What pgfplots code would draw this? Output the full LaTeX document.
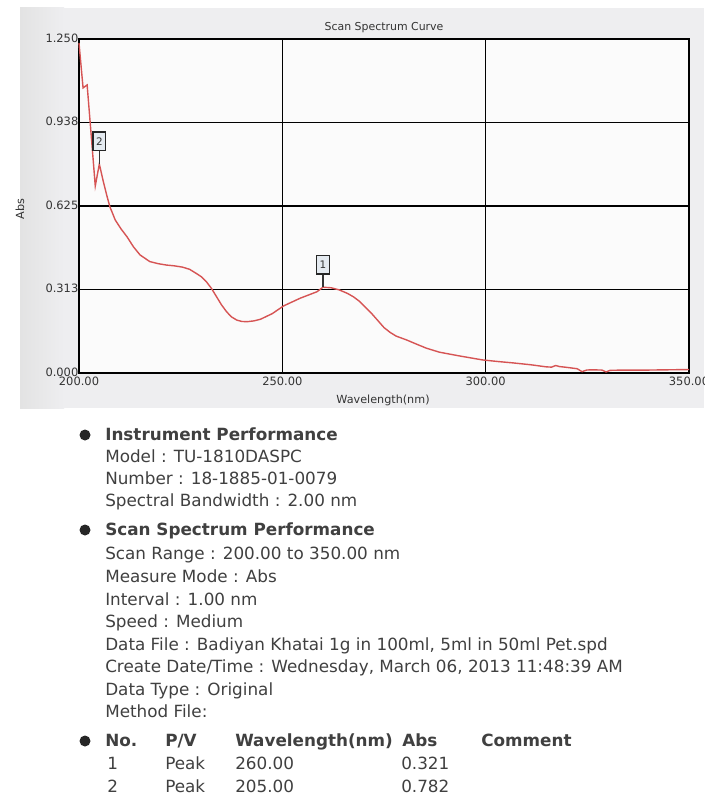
\documentclass[border=0pt]{standalone}
\usepackage{pgfplots}
\pgfplotsset{compat=1.18}
\usepackage{fontspec}
\setmainfont{DejaVu Sans}
\definecolor{curve}{RGB}{214,84,84}
\definecolor{panel}{RGB}{238,238,240}
\definecolor{boxfill}{RGB}{228,234,240}
\begin{document}
\begin{tikzpicture}
\useasboundingbox (0,0) rectangle (528pt,-603.75pt);
\begin{scope}[x=0.75pt,y=-0.75pt]
  \fill[white] (0,0) rectangle (704,805);
  \fill[panel] (20,8) rectangle (704,408);
  \shade[left color=gray!22, right color=panel] (20,8) rectangle (64,408);
\end{scope}
\begin{axis}[
  at={(59.25pt,-279.75pt)}, anchor=south west,
  scale only axis, width=457.5pt, height=250.5pt,
  xmin=200, xmax=350, ymin=0, ymax=1.25,
  axis background/.style={fill=white!97!gray},
  axis line style={black, line width=1.1pt},
  grid=major, major grid style={black, line width=1.1pt},
  xtick={200,250,300,350}, xticklabels={200.00,250.00,300.00,350.00},
  ytick={0,0.3125,0.625,0.9375,1.25}, yticklabels={0.000,0.313,0.625,0.938,1.250},
  major tick length=0pt,
  tick label style={font=\fontsize{8.6}{9}\selectfont, text=black!80},
  yticklabel style={inner sep=0.3pt, yshift=0.8pt},
  xticklabel style={inner sep=0.5pt, yshift=-2.6pt},
  clip=false,
]
\addplot[curve, line width=1.05pt] coordinates {
(200,1.235) (201,1.067) (202,1.078) (203,0.89) (204,0.70) (205,0.782)
(206,0.715) (207,0.655) (207.6,0.622) (208.9,0.573) (210.3,0.540) (211.8,0.510)
(213.4,0.472) (215,0.442) (217.4,0.417) (219.5,0.409) (221.5,0.404) (223.5,0.401)
(225.5,0.396) (227.2,0.388) (228.8,0.373) (230.1,0.360) (231.3,0.342) (232.6,0.316)
(233.8,0.286) (235.0,0.256) (236.3,0.229) (237.5,0.210) (238.8,0.198) (240,0.193)
(241.3,0.192) (243,0.195) (244.6,0.201) (247.5,0.222) (250.3,0.251) (254.4,0.280)
(258.5,0.304) (260,0.321) (262,0.319) (264,0.311) (266,0.298) (267.5,0.285)
(269,0.268) (270.5,0.245) (272,0.222) (273.5,0.196) (275,0.170) (276.5,0.152)
(278,0.138) (280.5,0.124) (283,0.108) (285.4,0.093) (288.6,0.078) (293.5,0.064)
(299.2,0.049) (303,0.043) (306.6,0.038) (311,0.031) (314.9,0.023) (316.2,0.022)
(317.2,0.028) (318.2,0.024) (320,0.021) (322.5,0.016) (323.7,0.005) (324.8,0.011)
(326,0.012) (328.6,0.011) (329.6,0.004) (330.6,0.010) (334,0.011) (340,0.011)
(345,0.012) (350,0.013)
};
\draw[black!80, line width=1.1pt] (axis cs:205,0.782) -- ([yshift=9.5pt]axis cs:205,0.782)
  node[draw=black!85, line width=1pt, fill=boxfill, anchor=south, inner sep=0pt,
       minimum width=9.5pt, minimum height=14pt, font=\fontsize{7.8}{8}\selectfont] {2};
\draw[black!80, line width=1.1pt] (axis cs:260,0.321) -- ([yshift=9.5pt]axis cs:260,0.321)
  node[draw=black!85, line width=1pt, fill=boxfill, anchor=south, inner sep=0pt,
       minimum width=9.5pt, minimum height=14pt, font=\fontsize{7.8}{8}\selectfont] {1};
\end{axis}
\begin{scope}[x=0.75pt,y=-0.75pt]
  \node[font=\fontsize{8.2}{9}\selectfont, text=black!80] at (384,28) {Scan Spectrum Curve};
  \node[font=\fontsize{8.4}{9}\selectfont, text=black!80, rotate=90] at (20,209) {Abs};
  \node[font=\fontsize{8.4}{9}\selectfont, text=black!80] at (383,400) {Wavelength(nm)};
  \def\fs{\fontsize{12.6}{14}\selectfont}
  \fill[black!85] (85,435) circle (5.5);
  \fill[black!85] (85,530) circle (5.5);
  \fill[black!85] (85,741) circle (5.5);
  \begin{scope}[every node/.style={anchor=base west, inner sep=0pt, text=black!75, font=\fs}]
  \node[font=\fs\bfseries] at (105,440.5) {Instrument Performance};
  \node at (105,462.5) {Model : TU-1810DASPC};
  \node at (105,484.5) {Number : 18-1885-01-0079};
  \node at (105,506.5) {Spectral Bandwidth : 2.00 nm};
  \node[font=\fs\bfseries] at (105,535.5) {Scan Spectrum Performance};
  \node at (105,559.5) {Scan Range : 200.00 to 350.00 nm};
  \node at (105,582.5) {Measure Mode : Abs};
  \node at (105,605.5) {Interval : 1.00 nm};
  \node at (105,627.5) {Speed : Medium};
  \node at (105,650.5) {Data File : Badiyan Khatai 1g in 100ml, 5ml in 50ml Pet.spd};
  \node at (105,672.5) {Create Date/Time : Wednesday, March 06, 2013 11:48:39 AM};
  \node at (105,695.5) {Data Type : Original};
  \node at (105,717.5) {Method File:};
  \node[font=\fs\bfseries] at (105,746.5) {No.};
  \node[font=\fs\bfseries] at (165,746.5) {P/V};
  \node[font=\fs\bfseries] at (235,746.5) {Wavelength(nm)};
  \node[font=\fs\bfseries] at (402,746.5) {Abs};
  \node[font=\fs\bfseries] at (481,746.5) {Comment};
  \node at (107,769.5) {1};
  \node at (165,769.5) {Peak};
  \node at (235,769.5) {260.00};
  \node at (401,769.5) {0.321};
  \node at (107,792) {2};
  \node at (165,792) {Peak};
  \node at (235,792) {205.00};
  \node at (401,792) {0.782};
  \end{scope}
\end{scope}
\end{tikzpicture}
\end{document}
